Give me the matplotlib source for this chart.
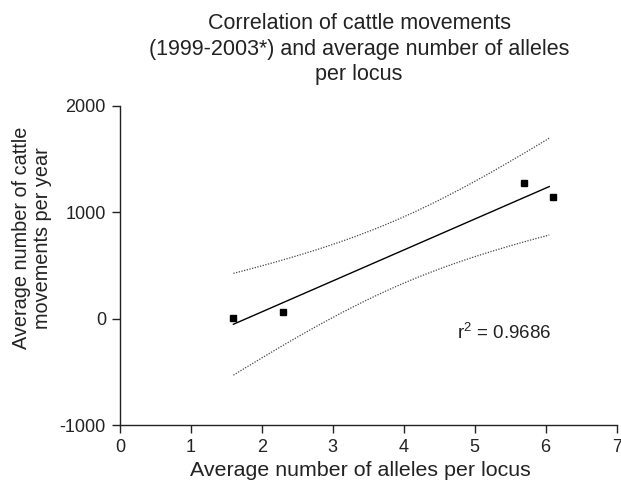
import numpy as np
import matplotlib
matplotlib.use("Agg")
import matplotlib.pyplot as plt

plt.rcParams['font.family'] = ['Liberation Sans', 'DejaVu Sans']
plt.rcParams['axes.unicode_minus'] = False
plt.rcParams['mathtext.fontset'] = 'custom'
plt.rcParams['mathtext.rm'] = 'Liberation Sans'

# Data
alleles = np.array([1.6, 2.3, 5.7, 6.1])
movements = np.array([12, 66, 1277, 1148])
r2_label = "r$^2$ = 0.9686"
x_ticks = [0, 1, 2, 3, 4, 5, 6, 7]
y_ticks = [-1000, 0, 1000, 2000]
t_crit = 4.303  # 95%, df = 2

# Linear regression with 95% confidence band
n = len(alleles)
xm, ym = alleles.mean(), movements.mean()
sxx = ((alleles - xm) ** 2).sum()
slope = ((alleles - xm) * (movements - ym)).sum() / sxx
intercept = ym - slope * xm
resid = movements - (intercept + slope * alleles)
s = np.sqrt((resid ** 2).sum() / (n - 2))
xf = np.linspace(alleles.min(), alleles.max() - 0.05, 100)
yf = intercept + slope * xf
half = t_crit * s * np.sqrt(1 / n + (xf - xm) ** 2 / sxx)

fig = plt.figure(figsize=(6.21, 4.84), dpi=100)
ax = fig.add_axes([0.193, 0.121, 0.8, 0.66])

ax.plot(xf, yf, color='black', lw=1.0)
ax.plot(xf, yf + half, color='#444444', lw=0.9, linestyle=(0, (1, 1.2)))
ax.plot(xf, yf - half, color='#444444', lw=0.9, linestyle=(0, (1, 1.2)))
ax.plot(alleles, movements, 's', color='black', markersize=5)

ax.set_xlim(0, 7)
ax.set_ylim(-1000, 2000)
ax.set_xticks(x_ticks)
ax.set_yticks(y_ticks)
ax.tick_params(labelsize=13, length=6, width=1, direction='out', pad=4, colors='#222222')
for sp in ['top', 'right']:
    ax.spines[sp].set_visible(False)
for sp in ['left', 'bottom']:
    ax.spines[sp].set_linewidth(1.0)
    ax.spines[sp].set_color('#222222')

ax.text(5.42, -130, r2_label, fontsize=13.5, ha='center', va='center', color='#222222')

fig.text(360 / 621, 1 - 471 / 484, "Average number of alleles per locus",
         ha='center', va='center', fontsize=15.4, color='#222222')
fig.text(32 / 621, 1 - 238 / 484, "Average number of cattle\nmovements per year",
         rotation=90, ha='center', va='center', multialignment='center',
         fontsize=14.3, linespacing=1.15, color='#222222')
fig.text(359 / 621, 1 - 49 / 484, "Correlation of cattle movements\n(1999-2003*) and average number of alleles\nper locus",
         ha='center', va='center', fontsize=15.5, linespacing=1.27, color='#222222')

fig.savefig("out.png", dpi=100)
